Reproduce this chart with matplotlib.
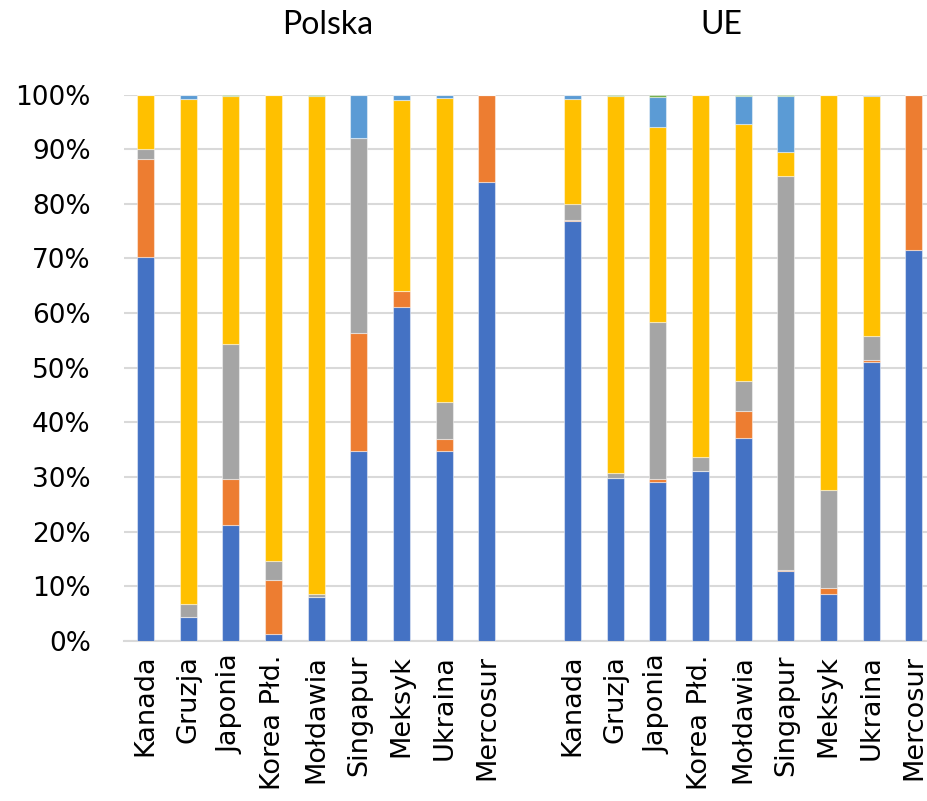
import numpy as np
import matplotlib
matplotlib.use("Agg")
import matplotlib.pyplot as plt
from matplotlib.ticker import PercentFormatter

categories = ["Kanada", "Gruzja", "Japonia", "Korea Płd.", "Mołdawia",
              "Singapur", "Meksyk", "Ukraina", "Mercosur"]
groups = ["Polska", "UE"]

# series values (%), bottom to top
pl_blue   = [70.2, 4.3, 21.2, 1.2, 8.1, 34.7, 61.1, 34.7, 84.0]
pl_orange = [18.1, 0.0, 8.5, 10.0, 0.0, 21.6, 2.9, 2.3, 16.0]
pl_gray   = [1.8, 2.4, 24.6, 3.4, 0.5, 35.8, 0.0, 6.8, 0.0]
pl_yellow = [9.9, 92.5, 45.5, 85.4, 91.2, 0.0, 35.1, 55.6, 0.0]
pl_lblue  = [0.0, 0.8, 0.0, 0.0, 0.0, 7.9, 0.9, 0.6, 0.0]
pl_green  = [0.0, 0.0, 0.2, 0.0, 0.2, 0.0, 0.0, 0.0, 0.0]

ue_blue   = [76.8, 29.8, 29.0, 31.0, 37.2, 12.7, 8.5, 51.1, 71.6]
ue_orange = [0.3, 0.0, 0.6, 0.0, 4.8, 0.3, 1.2, 0.4, 28.4]
ue_gray   = [2.9, 1.0, 28.8, 2.6, 5.5, 72.1, 17.9, 4.3, 0.0]
ue_yellow = [19.2, 69.0, 35.7, 66.4, 47.2, 4.4, 72.4, 44.0, 0.0]
ue_lblue  = [0.8, 0.0, 5.5, 0.0, 5.1, 10.3, 0.0, 0.2, 0.0]
ue_green  = [0.0, 0.2, 0.4, 0.0, 0.2, 0.2, 0.0, 0.0, 0.0]

colors = ["#4472C4", "#ED7D31", "#A5A5A5", "#FFC000", "#5B9BD5", "#70AD47"]

fig = plt.figure(figsize=(9.28, 8.01), dpi=100)
ax = fig.add_axes([124/928, 0.2, 1 - 124/928, (801-94.6)/801 - 0.2])

n = len(categories)
pos_pl = np.arange(n)
pos_ue = np.arange(n) + n + 1
w = 0.4

for pos, series in [(pos_pl, [pl_blue, pl_orange, pl_gray, pl_yellow, pl_lblue, pl_green]),
                    (pos_ue, [ue_blue, ue_orange, ue_gray, ue_yellow, ue_lblue, ue_green])]:
    bottom = np.zeros(n)
    for vals, c in zip(series, colors):
        v = np.array(vals) / 100.0
        ax.bar(pos, v, w, bottom=bottom, color=c, edgecolor=(1, 1, 1, 0.45),
               linewidth=0.8, zorder=3)
        bottom += v

ax.set_ylim(0, 1)
ax.set_xlim(-0.5, -0.5 + (928 - 124) / 42.7)
ax.yaxis.set_major_formatter(PercentFormatter(1.0, decimals=0))
ax.set_yticks(np.arange(0, 1.01, 0.1))
ax.grid(axis="y", color="#D9D9D9", linewidth=1.5, zorder=0)
for s in ["top", "right", "left"]:
    ax.spines[s].set_visible(False)
ax.spines["bottom"].set_color("#D9D9D9")
ax.spines["bottom"].set_linewidth(1.5)
ax.tick_params(axis="y", length=0, pad=24, labelsize=19)
ax.tick_params(axis="x", length=0, pad=10, labelsize=19.5)

ax.set_xticks(np.concatenate([pos_pl, pos_ue]))
ax.set_xticklabels(categories + categories, rotation=90, va="top", ha="center")

fig.text(328/928, 1 - 25/801, groups[0], ha="center", va="center",
         fontsize=23, family="Lato")
fig.text(721/928, 1 - 25/801, groups[1], ha="center", va="center",
         fontsize=23, family="Lato")

fig.savefig("out.png", dpi=100, facecolor="white")
